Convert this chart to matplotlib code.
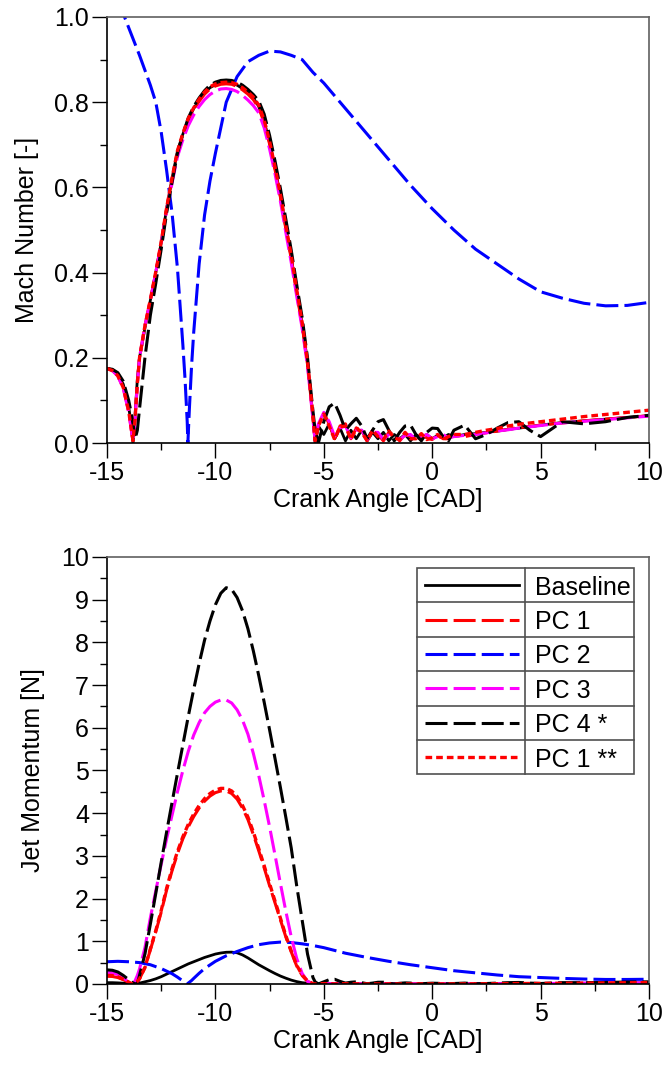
import matplotlib
matplotlib.use("Agg")
import matplotlib.pyplot as plt
from matplotlib.ticker import MultipleLocator
from matplotlib.lines import Line2D

plt.rcParams["font.family"] = ["Liberation Sans", "DejaVu Sans"]
plt.rcParams["axes.unicode_minus"] = False

# ─────────────────── data ──────────────────────────────────────────

# crank angle grid shared by Baseline / PC1 / PC3 / PC4 / PC1**
x_ca = [-15, -14.75, -14.5, -14.25, -14.0, -13.9, -13.8, -13.7, -13.6, -13.5, -13.25,
        -13.0, -12.75, -12.5, -12.25, -12.0, -11.75, -11.5, -11.25, -11.0, -10.75,
        -10.5, -10.25, -10.0, -9.75, -9.5, -9.25, -9.0, -8.75, -8.5, -8.25,
        -8.0, -7.75, -7.5, -7.25, -7.0, -6.75, -6.5, -6.25, -6.0,
        -5.75, -5.5, -5.4, -5.25,
        -5.0, -4.75, -4.5, -4.25, -4.0, -3.75, -3.5, -3.25, -3.0, -2.75,
        -2.5, -2.25, -2.0, -1.75, -1.5, -1.25, -1.0, -0.75, -0.5, -0.25,
        0.0, 0.25, 0.5, 0.75, 1.0, 1.5, 2.0, 2.5, 3.0, 3.5,
        4.0, 4.5, 5.0, 6.0, 7.0, 8.0, 9.0, 10.0]

# Mach number [-]
mach_base = [0.175, 0.172, 0.162, 0.138, 0.085, 0.05, 0.0, 0.07, 0.15, 0.2, 0.27,
             0.335, 0.40, 0.47, 0.55, 0.62, 0.685, 0.725, 0.76, 0.785, 0.805,
             0.822, 0.834, 0.841, 0.845, 0.846, 0.845, 0.84, 0.832, 0.822, 0.81,
             0.79, 0.755, 0.705, 0.645, 0.58, 0.505, 0.435, 0.355, 0.28,
             0.19, 0.06, 0.0, 0.04,
             0.02, 0.045, 0.01, 0.035, 0.005, 0.03, 0.01, 0.03, 0.005, 0.025,
             0.01, 0.025, 0.005, 0.02, 0.01, 0.02, 0.005, 0.02, 0.01, 0.02,
             0.01, 0.018, 0.012, 0.02, 0.015, 0.02, 0.022, 0.025, 0.028, 0.032,
             0.035, 0.038, 0.042, 0.048, 0.052, 0.056, 0.06, 0.064]
mach_pc1 = [0.175, 0.17, 0.158, 0.13, 0.075, 0.04, 0.005, 0.06, 0.14, 0.2, 0.275,
            0.335, 0.40, 0.47, 0.55, 0.618, 0.68, 0.722, 0.757, 0.782, 0.802,
            0.819, 0.831, 0.838, 0.842, 0.843, 0.842, 0.837, 0.829, 0.819, 0.806,
            0.787, 0.752, 0.702, 0.642, 0.577, 0.503, 0.432, 0.352, 0.277,
            0.185, 0.06, 0.005, 0.04,
            0.07, 0.045, 0.01, 0.04, 0.045, 0.01, 0.035, 0.03, 0.005, 0.03,
            0.02, 0.005, 0.025, 0.02, 0.005, 0.02, 0.015, 0.005, 0.02, 0.012,
            0.008, 0.02, 0.01, 0.01, 0.018, 0.015, 0.02, 0.024, 0.028, 0.032,
            0.036, 0.039, 0.042, 0.047, 0.052, 0.056, 0.06, 0.064]
mach_pc3 = [0.175, 0.17, 0.157, 0.128, 0.072, 0.038, 0.004, 0.06, 0.14, 0.2, 0.275,
            0.335, 0.40, 0.468, 0.545, 0.61, 0.672, 0.712, 0.745, 0.77, 0.79,
            0.806, 0.818, 0.826, 0.831, 0.832, 0.83, 0.825, 0.816, 0.805, 0.792,
            0.775, 0.74, 0.69, 0.632, 0.567, 0.494, 0.423, 0.345, 0.27,
            0.18, 0.055, 0.005, 0.045,
            0.072, 0.05, 0.015, 0.035, 0.04, 0.012, 0.03, 0.03, 0.008, 0.025,
            0.025, 0.008, 0.02, 0.022, 0.008, 0.018, 0.02, 0.008, 0.015, 0.02,
            0.01, 0.015, 0.02, 0.012, 0.015, 0.018, 0.02, 0.024, 0.028, 0.031,
            0.035, 0.038, 0.041, 0.047, 0.051, 0.055, 0.059, 0.063]
mach_pc4 = [0.175, 0.173, 0.165, 0.145, 0.10, 0.075, 0.045, 0.01, 0.03, 0.08, 0.20,
            0.30, 0.375, 0.455, 0.54, 0.612, 0.68, 0.725, 0.763, 0.79, 0.81,
            0.827, 0.84, 0.847, 0.851, 0.852, 0.851, 0.847, 0.84, 0.83, 0.818,
            0.803, 0.772, 0.722, 0.662, 0.597, 0.525, 0.452, 0.372, 0.295,
            0.20, 0.075, 0.03, 0.0,
            0.05, 0.085, 0.094, 0.065, 0.03, 0.045, 0.058, 0.04, 0.01, 0.03,
            0.05, 0.055, 0.03, 0.005, 0.025, 0.04, 0.042, 0.02, 0.005, 0.025,
            0.035, 0.034, 0.015, 0.005, 0.03, 0.042, 0.01, 0.02, 0.035, 0.048,
            0.05, 0.03, 0.015, 0.05, 0.045, 0.05, 0.06, 0.065]
mach_pc1b = [0.175, 0.17, 0.158, 0.13, 0.075, 0.04, 0.005, 0.06, 0.14, 0.2, 0.275,
             0.337, 0.402, 0.472, 0.552, 0.622, 0.686, 0.727, 0.762, 0.787, 0.807,
             0.824, 0.836, 0.843, 0.846, 0.847, 0.846, 0.842, 0.834, 0.824, 0.812,
             0.793, 0.758, 0.708, 0.648, 0.583, 0.51, 0.44, 0.36, 0.283,
             0.19, 0.065, 0.005, 0.04,
             0.068, 0.04, 0.008, 0.038, 0.04, 0.008, 0.035, 0.025, 0.005, 0.03,
             0.015, 0.008, 0.028, 0.012, 0.008, 0.025, 0.01, 0.01, 0.022, 0.008,
             0.012, 0.02, 0.008, 0.015, 0.02, 0.02, 0.025, 0.03, 0.034, 0.04,
             0.044, 0.047, 0.05, 0.056, 0.062, 0.067, 0.072, 0.077]

# Jet momentum [N]
mom_base = [0.03, 0.03, 0.025, 0.018, 0.007, 0.002, 0.0, 0.003, 0.008, 0.02, 0.05,
            0.08, 0.12, 0.17, 0.23, 0.29, 0.35, 0.41, 0.47, 0.52, 0.57,
            0.62, 0.66, 0.70, 0.725, 0.742, 0.745, 0.73, 0.68, 0.61, 0.53,
            0.45, 0.38, 0.31, 0.245, 0.185, 0.135, 0.09, 0.055, 0.03,
            0.015, 0.003, 0.0, 0.002,
            0.004, 0.003, 0.001, 0.003, 0.001, 0.002, 0.001, 0.002, 0.0, 0.002,
            0.001, 0.002, 0.0, 0.001, 0.001, 0.001, 0.0, 0.001, 0.001, 0.001,
            0.001, 0.001, 0.001, 0.001, 0.002, 0.002, 0.003, 0.004, 0.005, 0.006,
            0.007, 0.008, 0.01, 0.012, 0.015, 0.017, 0.02, 0.022]
mom_pc1 = [0.18, 0.175, 0.15, 0.10, 0.04, 0.015, 0.0, 0.02, 0.06, 0.12, 0.38,
           0.8, 1.22, 1.68, 2.2, 2.65, 3.05, 3.4, 3.68, 3.92, 4.12,
           4.28, 4.4, 4.48, 4.52, 4.52, 4.46, 4.33, 4.12, 3.85, 3.5,
           3.12, 2.72, 2.3, 1.9, 1.5, 1.1, 0.75, 0.42, 0.2,
           0.06, 0.005, 0.0, 0.003,
           0.01, 0.005, 0.001, 0.004, 0.006, 0.001, 0.003, 0.002, 0.0, 0.002,
           0.001, 0.0, 0.001, 0.001, 0.0, 0.001, 0.001, 0.0, 0.001, 0.0,
           0.0, 0.001, 0.0, 0.0, 0.001, 0.001, 0.002, 0.003, 0.004, 0.005,
           0.006, 0.007, 0.008, 0.01, 0.012, 0.015, 0.017, 0.02]
mom_pc3 = [0.27, 0.26, 0.22, 0.14, 0.06, 0.02, 0.0, 0.08, 0.2, 0.35, 0.85,
           1.55, 2.18, 2.8, 3.4, 3.95, 4.5, 5.0, 5.45, 5.83, 6.12,
           6.35, 6.5, 6.6, 6.65, 6.65, 6.58, 6.42, 6.18, 5.85, 5.4,
           4.88, 4.3, 3.68, 3.02, 2.35, 1.7, 1.1, 0.6, 0.25,
           0.06, 0.0, 0.0, 0.004,
           0.012, 0.006, 0.001, 0.005, 0.006, 0.001, 0.004, 0.003, 0.0, 0.003,
           0.002, 0.0, 0.002, 0.002, 0.0, 0.002, 0.002, 0.0, 0.001, 0.002,
           0.001, 0.001, 0.002, 0.001, 0.001, 0.002, 0.003, 0.004, 0.005, 0.007,
           0.008, 0.009, 0.011, 0.014, 0.017, 0.02, 0.023, 0.026]
mom_pc4 = [0.33, 0.32, 0.28, 0.2, 0.1, 0.06, 0.025, 0.005, 0.0, 0.2, 0.7,
           1.4, 2.12, 2.85, 3.56, 4.25, 4.93, 5.6, 6.27, 6.9, 7.5,
           8.05, 8.5, 8.88, 9.15, 9.28, 9.24, 9.05, 8.74, 8.32, 7.8,
           7.22, 6.6, 5.95, 5.28, 4.6, 3.9, 3.18, 2.3, 1.5,
           0.7, 0.15, 0.05, 0.0,
           0.05, 0.1, 0.11, 0.06, 0.02, 0.04, 0.05, 0.03, 0.005, 0.02,
           0.04, 0.04, 0.015, 0.0, 0.015, 0.025, 0.02, 0.005, 0.003, 0.012,
           0.018, 0.015, 0.005, 0.002, 0.01, 0.02, 0.005, 0.01, 0.02, 0.03,
           0.035, 0.02, 0.01, 0.03, 0.03, 0.035, 0.045, 0.05]
mom_pc1b = [0.2, 0.195, 0.165, 0.11, 0.045, 0.016, 0.0, 0.02, 0.06, 0.12, 0.39,
            0.82, 1.25, 1.72, 2.24, 2.7, 3.1, 3.45, 3.74, 3.98, 4.18,
            4.34, 4.46, 4.54, 4.58, 4.58, 4.52, 4.39, 4.18, 3.91, 3.56,
            3.17, 2.77, 2.35, 1.94, 1.54, 1.13, 0.77, 0.44, 0.21,
            0.07, 0.006, 0.0, 0.003,
            0.008, 0.005, 0.001, 0.004, 0.005, 0.001, 0.003, 0.002, 0.0, 0.002,
            0.001, 0.0, 0.002, 0.001, 0.0, 0.002, 0.001, 0.0, 0.001, 0.0,
            0.001, 0.001, 0.0, 0.001, 0.001, 0.002, 0.003, 0.004, 0.006, 0.008,
            0.009, 0.011, 0.013, 0.016, 0.02, 0.024, 0.028, 0.032]

# PC 2 has its own sampling (sharp zero near -11.3 CAD)
x_pc2_mach = [-15, -14.5, -14.0, -13.5, -13.0, -12.75, -12.5, -12.25, -12.0, -11.75,
              -11.5, -11.4, -11.3, -11.27, -11.2, -11.1, -11.0, -10.75, -10.5, -10.25,
              -10.0, -9.5, -9.0, -8.5, -8.0, -7.5, -7.0, -6.5, -6.0, -5.5,
              -5.0, -4.5, -4.0, -3.0, -2.0, -1.0, 0.0, 1.0, 2.0, 3.0,
              4.0, 5.0, 6.0, 7.0, 8.0, 9.0, 10.0]
mach_pc2 = [1.1, 1.04, 0.975, 0.91, 0.84, 0.8, 0.73, 0.64, 0.54, 0.41,
            0.23, 0.15, 0.05, 0.0, 0.08, 0.18, 0.26, 0.42, 0.535, 0.615,
            0.68, 0.8, 0.86, 0.895, 0.91, 0.92, 0.918, 0.91, 0.9, 0.87,
            0.845, 0.815, 0.785, 0.725, 0.665, 0.605, 0.55, 0.5, 0.455, 0.42,
            0.385, 0.355, 0.34, 0.328, 0.322, 0.323, 0.33]
x_pc2_mom = [-15, -14.5, -14.0, -13.5, -13.0, -12.5, -12.0, -11.75, -11.5, -11.3,
             -11.1, -11.0, -10.75, -10.5, -10.0, -9.5, -9.0, -8.5, -8.0, -7.5,
             -7.0, -6.5, -6.0, -5.5, -5.0, -4.0, -3.0, -2.0, -1.0, 0.0,
             1.0, 2.0, 3.0, 4.0, 5.0, 6.0, 7.0, 8.0, 9.0, 10.0]
mom_pc2 = [0.52, 0.53, 0.52, 0.5, 0.45, 0.36, 0.24, 0.16, 0.07, 0.0,
           0.08, 0.13, 0.25, 0.36, 0.53, 0.66, 0.76, 0.85, 0.92, 0.96,
           0.98, 0.97, 0.94, 0.9, 0.85, 0.72, 0.62, 0.53, 0.45, 0.38,
           0.31, 0.26, 0.21, 0.17, 0.15, 0.13, 0.115, 0.105, 0.105, 0.11]

labels = ["Baseline", "PC 1", "PC 2", "PC 3", "PC 4 *", "PC 1 **"]

# ─────────────────── styles ────────────────────

DASH = (0, (7.2, 2.0))
DOT = (0, (2.0, 1.2))
styles = {
    "Baseline": dict(color="black", linestyle="-", linewidth=2.0),
    "PC 1": dict(color="#ff0000", linestyle=DASH, linewidth=2.2),
    "PC 2": dict(color="#0000ff", linestyle=DASH, linewidth=2.2),
    "PC 3": dict(color="#ff00ff", linestyle=DASH, linewidth=2.2),
    "PC 4 *": dict(color="black", linestyle=DASH, linewidth=2.2),
    "PC 1 **": dict(color="#ff0000", linestyle=DOT, linewidth=2.4),
}

FS = 18


def style_axes(ax, ymax, ymajor, yminor, yfmt):
    ax.set_xlim(-15, 10)
    ax.set_ylim(0, ymax)
    ax.xaxis.set_major_locator(MultipleLocator(5))
    ax.xaxis.set_minor_locator(MultipleLocator(2.5))
    ax.yaxis.set_major_locator(MultipleLocator(ymajor))
    ax.yaxis.set_minor_locator(MultipleLocator(yminor))
    ax.yaxis.set_major_formatter(yfmt)
    ax.tick_params(which="major", direction="out", length=11, width=1.0,
                   labelsize=FS, pad=2, top=False, right=False)
    ax.tick_params(which="minor", direction="out", length=5, width=1.0,
                   top=False, right=False)
    for side in ("left", "bottom"):
        ax.spines[side].set_color("black")
        ax.spines[side].set_linewidth(1.2)
    for side in ("top", "right"):
        ax.spines[side].set_color("#606060")
        ax.spines[side].set_linewidth(1.2)
    ax.set_xlabel("Crank Angle [CAD]", fontsize=FS, labelpad=2)


def table_legend(ax):
    # boxed legend with one cell per row, like the original
    x0, x1, xd = 0.572, 0.972, 0.771
    y_top, row_h = 0.974, 0.0805
    grid_kw = dict(color="#505050", linewidth=1.2, transform=ax.transAxes,
                   clip_on=False, zorder=5)
    n = len(labels)
    y_bot = y_top - n * row_h
    ax.add_patch(plt.Rectangle((x0, y_bot), x1 - x0, n * row_h,
                               transform=ax.transAxes, facecolor="white",
                               edgecolor="#505050", linewidth=1.2, zorder=4))
    ax.add_line(Line2D([xd, xd], [y_bot, y_top], **grid_kw))
    for i, name in enumerate(labels):
        yc = y_top - (i + 0.5) * row_h
        if i > 0:
            yl = y_top - i * row_h
            ax.add_line(Line2D([x0, x1], [yl, yl], **grid_kw))
        ax.add_line(Line2D([0.587, 0.760], [yc, yc], transform=ax.transAxes,
                           zorder=6, **styles[name]))
        ax.text(0.790, yc, name, transform=ax.transAxes, fontsize=FS,
                ha="left", va="center_baseline", zorder=6)


fig = plt.figure(figsize=(6.65, 10.68), dpi=100)
ax1 = fig.add_axes([0.1609, 0.5852, 0.815, 0.3989])
ax2 = fig.add_axes([0.1609, 0.0787, 0.815, 0.3998])

# === Panel 1: Mach number ===
mach_series = [mach_base, mach_pc1, None, mach_pc3, mach_pc4, mach_pc1b]
for name, ys in zip(labels, mach_series):
    if ys is None:
        ax1.plot(x_pc2_mach, mach_pc2, **styles[name])
    else:
        ax1.plot(x_ca, ys, **styles[name])
style_axes(ax1, 1.0, 0.2, 0.1, "{x:.1f}")
ax1.set_ylabel("Mach Number [-]", fontsize=FS)
ax1.yaxis.set_label_coords(-0.125, 0.5)

# === Panel 2: jet momentum ===
mom_series = [mom_base, mom_pc1, None, mom_pc3, mom_pc4, mom_pc1b]
for name, ys in zip(labels, mom_series):
    if ys is None:
        ax2.plot(x_pc2_mom, mom_pc2, **styles[name])
    else:
        ax2.plot(x_ca, ys, **styles[name])
style_axes(ax2, 10, 1, 0.5, "{x:.0f}")
ax2.set_ylabel("Jet Momentum [N]", fontsize=FS)
ax2.yaxis.set_label_coords(-0.115, 0.5)
table_legend(ax2)

fig.savefig("out.png", dpi=100)
